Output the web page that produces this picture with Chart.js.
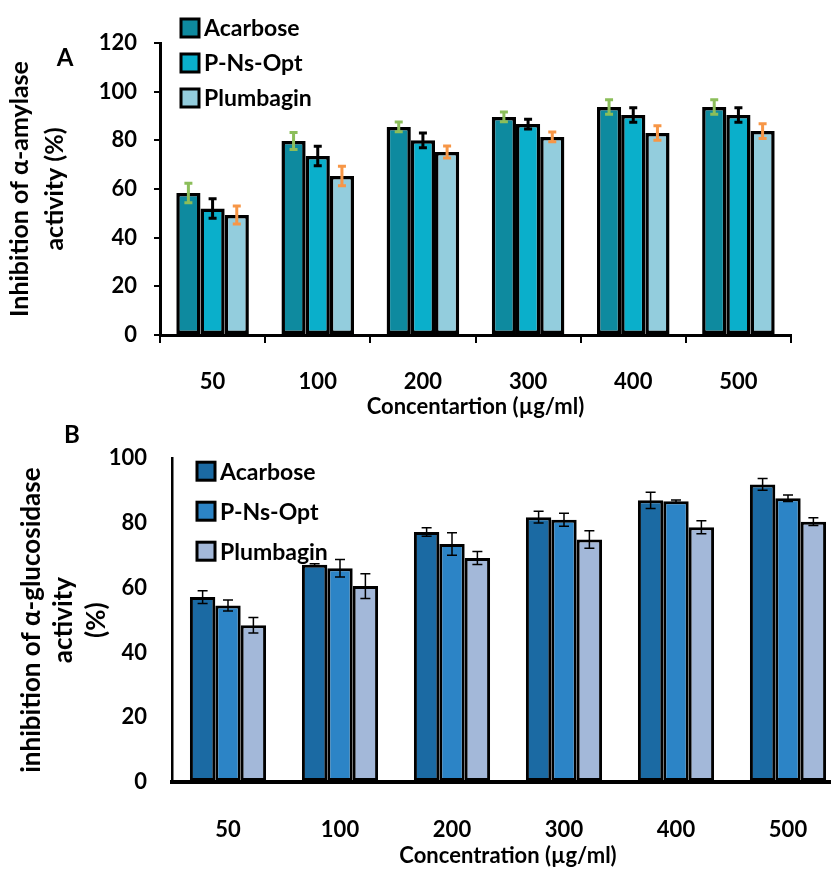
<!DOCTYPE html>
<html>
<head>
<meta charset="utf-8">
<script src="https://cdn.jsdelivr.net/npm/chart.js@4.4.1/dist/chart.umd.min.js"></script>
<style>
  body { margin: 0; background: #fff; overflow: hidden; }
  #wrap { position: relative; width: 831px; height: 869px; overflow: hidden; }
  #chartA { position: absolute; left: 0; top: 0; }
  #chartB { position: absolute; left: 0; top: 420px; }
</style>
</head>
<body>
<div id="wrap">
  <canvas id="chartA" width="831" height="420"></canvas>
  <canvas id="chartB" width="850" height="449"></canvas>
</div>
<script>
var concentrations = ['50', '100', '200', '300', '400', '500'];
var seriesNames = ['Acarbose', 'P-Ns-Opt', 'Plumbagin'];

// A: alpha-amylase inhibition (%)
var amylaseAcarbose = [58.4, 79.7, 85.5, 89.6, 93.7, 93.7];
var amylasePNsOpt = [52.0, 73.6, 80.0, 86.7, 90.4, 90.4];
var amylasePlumbagin = [49.3, 65.3, 75.2, 81.4, 83.0, 83.8];
var amylaseAcarboseErr = [4.0, 3.5, 2.0, 2.0, 3.0, 3.0];
var amylasePNsOptErr = [4.0, 4.0, 3.0, 2.0, 3.0, 3.0];
var amylasePlumbaginErr = [3.7, 4.0, 2.5, 2.0, 3.0, 3.0];
var amylaseTicks = [0, 20, 40, 60, 80, 100, 120];

// B: alpha-glucosidase inhibition (%)
var glucAcarbose = [57.1, 67.1, 77.2, 81.8, 87.0, 91.9];
var glucPNsOpt = [54.5, 66.0, 73.5, 81.0, 86.7, 87.6];
var glucPlumbagin = [48.4, 60.5, 69.2, 74.9, 78.7, 80.4];
var glucAcarboseErr = [2.0, 0.3, 1.3, 1.8, 2.5, 1.8];
var glucPNsOptErr = [1.7, 2.7, 3.5, 2.0, 0.4, 1.0];
var glucPlumbaginErr = [2.4, 3.8, 2.0, 2.7, 2.0, 1.2];
var glucTicks = [0, 20, 40, 60, 80, 100];

const errorBars = {
    id: 'errorBars',
    afterDatasetsDraw(chart, args, opts) {
        const ctx = chart.ctx;
        const yScale = chart.scales.y;
        chart.data.datasets.forEach(function (ds, i) {
            const meta = chart.getDatasetMeta(i);
            meta.data.forEach(function (bar, j) {
                const top = yScale.getPixelForValue(ds.data[j] + ds.errors[j]);
                const bottom = yScale.getPixelForValue(ds.data[j] - ds.errors[j]);
                ctx.save();
                ctx.strokeStyle = ds.errorColor;
                ctx.lineWidth = opts.width;
                ctx.beginPath();
                ctx.moveTo(bar.x, top);
                ctx.lineTo(bar.x, bottom);
                ctx.moveTo(bar.x - opts.cap, top);
                ctx.lineTo(bar.x + opts.cap, top);
                ctx.moveTo(bar.x - opts.cap, bottom);
                ctx.lineTo(bar.x + opts.cap, bottom);
                ctx.stroke();
                ctx.restore();
            });
        });
    }
};

// stacked box legend inside the plot + panel letter
const boxLegend = {
    id: 'boxLegend',
    afterDraw(chart, args, opts) {
        const ctx = chart.ctx;
        const area = chart.chartArea;
        ctx.save();
        ctx.font = opts.font;
        ctx.textBaseline = 'middle';
        chart.data.datasets.forEach(function (ds, i) {
            const x = area.left + opts.x;
            const y = area.top + opts.y + i * opts.gap;
            ctx.fillStyle = ds.backgroundColor;
            ctx.fillRect(x, y - opts.box / 2, opts.box, opts.box);
            ctx.lineWidth = 3;
            ctx.strokeStyle = '#000';
            ctx.strokeRect(x, y - opts.box / 2, opts.box, opts.box);
            ctx.fillStyle = '#000';
            ctx.fillText(ds.label, x + opts.box + 5, y + 1);
        });
        ctx.font = opts.panelFont;
        ctx.textAlign = 'center';
        ctx.fillText(opts.panel, opts.panelX, opts.panelY);
        ctx.restore();
    }
};

function makeDatasets(values, errors, colors, errorColors, border) {
    return values.map(function (v, i) {
        return {
            label: seriesNames[i],
            data: v,
            errors: errors[i],
            errorColor: errorColors[i],
            backgroundColor: colors[i],
            borderColor: '#000',
            borderWidth: border,
            borderSkipped: false
        };
    });
}

function renderChart(id, cfg) {
    const ctx = document.getElementById(id);
    return new Chart(ctx, {
        type: 'bar',
        data: {
            labels: concentrations,
            datasets: makeDatasets(cfg.values, cfg.errors, cfg.colors, cfg.errorColors, cfg.border)
        },
        plugins: [errorBars, boxLegend],
        options: {
            responsive: false,
            animation: false,
            categoryPercentage: cfg.groupWidth,
            barPercentage: 1,
            layout: { padding: cfg.padding },
            plugins: {
                legend: { display: false },
                tooltip: { enabled: false },
                errorBars: cfg.errorStyle,
                boxLegend: cfg.legend
            },
            scales: {
                x: {
                    grid: {
                        offset: true,
                        drawOnChartArea: false,
                        drawTicks: cfg.xTickLength > 0,
                        tickLength: cfg.xTickLength,
                        color: '#000',
                        lineWidth: 2
                    },
                    border: { display: true, color: '#000', width: cfg.xBorder },
                    ticks: {
                        color: '#000',
                        padding: cfg.xPadding,
                        font: { family: 'Lato', weight: 'bold', size: 22 }
                    },
                    title: {
                        display: true,
                        text: cfg.xTitle,
                        color: '#000',
                        padding: { top: 0, bottom: 0 },
                        font: { family: 'Lato', weight: 'bold', size: 22 }
                    },
                    afterFit: function (scale) { scale.height = cfg.xHeight; }
                },
                y: {
                    min: 0,
                    max: cfg.yTicks[cfg.yTicks.length - 1],
                    afterBuildTicks: function (scale) {
                        scale.ticks = cfg.yTicks.map(function (t) { return { value: t }; });
                    },
                    grid: {
                        drawOnChartArea: false,
                        drawTicks: cfg.yTickLength > 0,
                        tickLength: cfg.yTickLength,
                        color: '#000',
                        lineWidth: 2
                    },
                    border: { display: true, color: '#000', width: cfg.yBorder },
                    ticks: {
                        color: '#000',
                        padding: cfg.yPadding,
                        font: { family: 'Lato', weight: 'bold', size: 22 }
                    },
                    title: {
                        display: true,
                        text: cfg.yTitle,
                        color: '#000',
                        padding: { top: cfg.yTitlePad, bottom: 0 },
                        font: { family: 'Lato', weight: 'bold', size: cfg.yTitleSize, lineHeight: cfg.yTitleLine }
                    },
                    afterFit: function (scale) { scale.width = cfg.yWidth; }
                }
            }
        }
    });
}

renderChart('chartA', {
    values: [amylaseAcarbose, amylasePNsOpt, amylasePlumbagin],
    errors: [amylaseAcarboseErr, amylasePNsOptErr, amylasePlumbaginErr],
    colors: ['#0e8a9f', '#0aafcb', '#93cddd'],
    errorColors: ['#8cbe5a', '#000000', '#f79646'],
    border: 3.5,
    groupWidth: 0.69,
    padding: { left: 0, top: 43, right: 40, bottom: 0 },
    errorStyle: { width: 3, cap: 4 },
    legend: { x: 21, y: -15, gap: 35, box: 18, font: 'bold 23px Lato',
              panel: 'A', panelX: 65, panelY: 58, panelFont: 'bold 24px Lato' },
    xTickLength: 8, xBorder: 3, xPadding: 26, xHeight: 85,
    xTitle: 'Concentartion (µg/ml)',
    yTicks: amylaseTicks, yTickLength: 6, yBorder: 3, yPadding: 17, yWidth: 160,
    yTitle: ['Inhibition of α-amylase', 'activity (%)'], yTitlePad: 2, yTitleSize: 25, yTitleLine: 1.4
});

renderChart('chartB', {
    values: [glucAcarbose, glucPNsOpt, glucPlumbagin],
    errors: [glucAcarboseErr, glucPNsOptErr, glucPlumbaginErr],
    colors: ['#1b6aa3', '#2c84c6', '#a3b8d9'],
    errorColors: ['#000000', '#000000', '#000000'],
    border: 3,
    groupWidth: 0.68,
    padding: { left: 0, top: 15, right: 6, bottom: 0 },
    errorStyle: { width: 1.5, cap: 5 },
    legend: { x: 25, y: 13, gap: 40, box: 18, font: 'bold 23px Lato',
              panel: 'B', panelX: 72, panelY: 15, panelFont: 'bold 24px Lato' },
    xTickLength: 0, xBorder: 4, xPadding: 35, xHeight: 87,
    xTitle: 'Concentration (µg/ml)',
    yTicks: glucTicks, yTickLength: 0, yBorder: 2.5, yPadding: 25, yWidth: 172,
    yTitle: ['inhibition of α-glucosidase', 'activity', '(%)'], yTitlePad: 15, yTitleSize: 26, yTitleLine: 1.25
});
</script>
</body>
</html>
